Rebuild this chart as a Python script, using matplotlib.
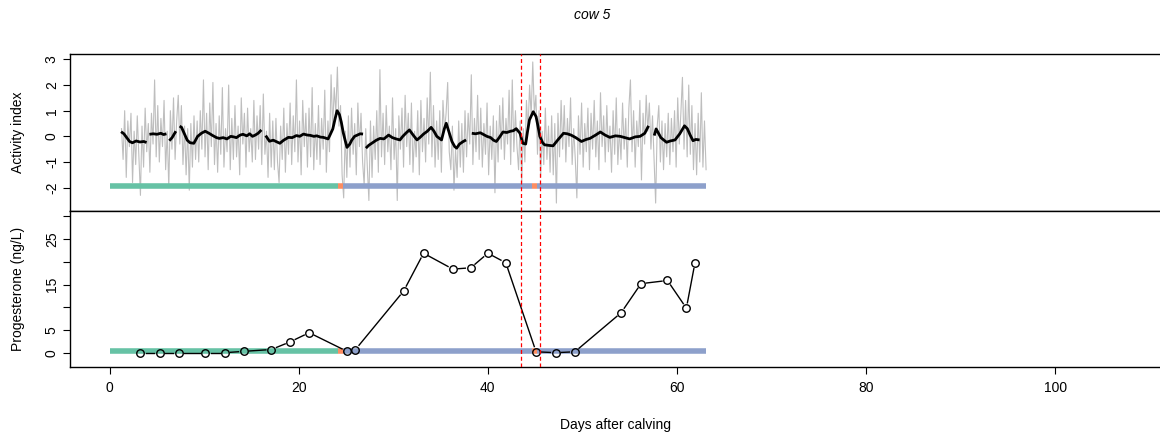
import numpy as np
import matplotlib
matplotlib.use("Agg")
import matplotlib.pyplot as plt

plt.rcParams['font.family'] = ['Liberation Sans', 'DejaVu Sans']

# ---------------- data ----------------
# raw activity index, sampled every 4 hours starting at day 1.25
activity_start = 1.25
activity_step = 1.0 / 6.0
activity_raw = [
    0.3, -0.9, 1.0, -1.6, 0.6, -0.4, 0.9, -1.8, 0.2, -1.1, 0.8, -0.7,
    -2.3, 0.4, -1.2, 1.1, -0.6, 0.5, -1.4, 0.9, -0.3, 2.2, -0.8, 1.2,
    -1.0, 0.7, -0.4, 1.4, -1.3, 0.2, -2.0, 1.0, -0.5, 1.5, -0.9, 0.6,
    1.6, -0.3, 1.2, -1.1, 0.4, -1.5, 0.3, -2.1, 0.5, -1.2, 0.8, -0.9,
    0.6, -1.0, 1.0, -0.5, 2.2, -0.8, 0.9, -1.3, 1.3, -0.4, 2.1, -1.1,
    0.5, -1.4, 0.8, -0.7, 1.9, -1.2, 0.3, -0.6, 2.0, -1.3, 0.7, -0.9,
    1.2, -0.8, 0.4, -1.5, 1.5, -0.3, 0.9, -1.2, 1.1, -0.6, 0.3, -1.0,
    1.4, -0.9, 0.8, -0.5, 1.2, -1.1, 1.65, -0.7, 0.2, -1.6, 0.9, -1.2,
    0.6, -1.3, 0.7, -1.0, -1.8, 0.4, -0.9, 1.1, -1.4, 0.5, -0.7, 1.3,
    -1.1, 0.8, -0.6, 2.2, -1.0, 0.6, -1.5, 1.4, -0.4, 0.9, -1.2, 1.1,
    -0.8, 1.9, -1.3, 0.5, -0.9, 1.2, -1.1, 0.7, -0.5, 1.8, -1.4, 0.6,
    -0.6, 2.4, 0.3, 1.9, 0.9, 2.7, 0.4, 1.2, -1.5, -2.4, 0.2, -1.6,
    0.8, -1.2, 1.1, -0.7, 0.5, -1.5, 1.3, -0.4, 0.9, -1.0, -1.9, 0.3,
    -1.2, -2.5, 0.6, -1.6, 0.4, -0.9, 1.0, -1.4, 2.6, -0.8, 0.9, -1.1,
    1.2, -0.6, 0.4, -1.3, 1.5, -0.9, 0.3, -2.5, 0.8, -0.5, 1.1, -1.2,
    1.6, -0.4, 0.9, -1.1, 1.3, -1.4, 0.2, -0.8, 1.0, -1.5, 1.4, -0.6,
    0.7, -1.0, 1.5, -0.3, 2.5, -0.8, 1.2, -1.2, 0.6, -0.9, 1.0, -1.4,
    1.4, 0.2, 0.9, 2.1, -0.6, -1.3, 0.4, -2.1, -0.5, -1.6, 0.6, -1.2,
    0.5, -1.4, 1.0, -0.8, 0.9, -0.3, 2.4, -1.1, 0.7, -0.6, 1.6, -0.9,
    1.1, -1.2, 0.5, -0.7, 1.3, -1.5, 0.4, -0.9, 0.8, -2.2, 0.6, -1.0,
    1.2, -0.5, 1.5, -0.9, 0.7, -0.3, 1.8, -1.1, 2.2, -0.6, 1.0, -0.4,
    -1.3, 0.6, -1.8, 0.3, -1.0, 1.4, 0.2, 2.0, 0.8, 2.9, 0.9, 1.6,
    -0.7, 1.0, -1.6, 0.2, -1.1, 1.1, -0.9, 0.4, -1.4, 0.8, -1.5, 0.5,
    -2.6, 0.9, -0.8, 1.4, -0.5, 1.2, -1.0, 0.7, -0.4, 1.5, -1.1, 0.3,
    -0.9, -2.4, 0.8, -0.7, 1.3, -1.2, 0.5, -0.6, 1.1, -1.3, 0.9, -0.5,
    1.4, -0.8, 0.6, -1.3, 1.7, -0.4, 0.8, -1.0, 1.2, -0.6, 0.4, -1.4,
    1.0, -0.7, 1.5, -1.1, 0.3, -0.9, 1.3, -0.5, 0.7, -1.2, 1.1, 2.2,
    -0.6, 1.0, -1.2, 0.6, -0.4, 1.4, -1.7, 0.9, -0.3, 1.6, 0.2, 1.3,
    -0.5, 0.8, -0.9, -2.6, 0.4, 1.2, -1.0, 0.6, -1.3, 0.5, -0.8, 0.9,
    -1.1, 0.7, -0.6, 1.0, -1.2, 1.5, -0.3, 0.9, 2.3, -0.5, 1.4, -0.8,
    2.0, -0.7, 1.2, -1.3, 0.5, -1.5, 0.9, -1.0, 1.7, -1.2, 0.6, -1.3,
]

# smoothed activity (None = gap)
smooth_days = [1.2, 1.5, 1.8, 2.1, 2.4, 2.8, 3.2, 3.6, 3.9, 4.05, 4.2, 4.6, 5.0, 5.4, 5.7, 6.0, 6.15,
               6.3, 6.6, 7.0, 7.2, 7.4, 7.6, 7.9, 8.2, 8.5, 8.9, 9.3, 9.7, 10.1, 10.5, 10.9, 11.3,
               11.6, 12.0, 12.4, 12.8, 13.1, 13.4, 13.8, 14.1, 14.5, 14.8, 15.1, 15.4, 15.7, 16.05,
               16.3, 16.5, 16.9, 17.3, 17.7, 18.0, 18.4, 18.9, 19.3, 19.75, 20.1, 20.5, 20.9, 21.2,
               21.6, 21.9, 22.3, 22.6, 23.1, 23.3, 23.6, 23.85, 24.05, 24.3, 24.5, 24.7, 24.9, 25.1,
               25.4, 25.6, 25.9, 26.2, 26.5, 26.8, 26.95, 27.1, 27.4, 27.8, 28.2, 28.6, 29.0, 29.5,
               29.9, 30.3, 30.7, 31.0, 31.4, 31.7, 32.1, 32.5, 32.8, 33.2, 33.6, 34.0, 34.3, 34.6,
               35.1, 35.4, 35.6, 35.9, 36.2, 36.5, 36.7, 37.0, 37.4, 37.7, 38.0, 38.3, 38.7, 39.2,
               39.5, 39.9, 40.3, 40.6, 40.9, 41.2, 41.6, 42.0, 42.4, 42.7, 43.0, 43.4, 43.7, 44.0,
               44.2, 44.4, 44.8, 45.1, 45.3, 45.5, 45.8, 46.0, 46.4, 46.9, 47.4, 48.0, 48.4, 48.8,
               49.3, 49.9, 50.4, 50.8, 51.4, 51.9, 52.4, 52.9, 53.5, 54.0, 54.5, 55.0, 55.6, 56.1,
               56.6, 57.0, 57.3, 57.6, 57.8, 58.3, 58.9, 59.3, 59.8, 60.3, 60.8, 61.1, 61.4, 61.7,
               62.0, 62.4]
smooth_vals = [0.18, 0.1, -0.05, -0.2, -0.25, -0.18, -0.22, -0.2, -0.24, None, 0.08, 0.1, 0.08, 0.12, 0.07, 0.1, None,
               -0.17, -0.05, 0.2, None, 0.4, 0.35, 0.1, -0.15, -0.25, -0.27, 0.0, 0.12, 0.2, 0.12, 0.03, -0.05,
               -0.08, -0.05, -0.1, 0.0, -0.02, -0.05, 0.05, 0.08, 0.02, 0.1, 0.0, 0.05, 0.12, 0.25,
               None, 0.03, -0.19, -0.15, -0.22, -0.27, -0.15, -0.04, -0.05, 0.03, 0.0, 0.09, 0.05, 0.04,
               0.0, 0.02, -0.03, -0.04, -0.1, 0.05, 0.29, 0.7, 1.0, 0.85, 0.55, 0.15, -0.15, -0.43,
               -0.3, -0.15, 0.0, 0.05, 0.1, 0.09, None, -0.46, -0.35, -0.25, -0.15, -0.08, -0.1, 0.05,
               -0.05, -0.1, -0.14, 0.0, 0.15, 0.25, 0.05, -0.14, -0.05, 0.09, 0.2, 0.35, 0.2, 0.0,
               -0.14, 0.3, 0.51, 0.15, -0.2, -0.4, -0.46, -0.3, -0.2, -0.14, None, 0.12, 0.1, 0.14,
               0.08, 0.0, -0.05, -0.15, -0.2, -0.05, 0.17, 0.15, 0.2, 0.22, 0.3, 0.12, -0.27, -0.3,
               0.2, 0.64, 0.96, 0.77, 0.4, 0.0, -0.25, -0.33, -0.35, -0.37, -0.14, 0.12, 0.1, 0.05,
               -0.05, -0.2, -0.12, -0.08, 0.05, 0.17, 0.05, -0.04, 0.02, 0.0, -0.05, -0.1, -0.02, 0.0,
               0.12, 0.41, None, 0.03, 0.29, -0.05, -0.23, -0.18, -0.14, 0.1, 0.41, 0.3, 0.05, -0.17,
               -0.12, -0.14]

# progesterone samples
prog_days = [3.25, 5.3, 7.3, 10.1, 12.2, 14.2, 17.1, 19.1, 21.1, 25.1, 26.0,
             31.1, 33.2, 36.3, 38.2, 40.0, 41.9, 45.1, 47.2, 49.2, 54.1, 56.2, 59.0, 61.0, 61.9]
prog_vals = [0.0, 0.0, 0.0, 0.0, 0.0, 0.3, 0.7, 2.4, 4.4, 0.3, 0.7,
             13.6, 21.9, 18.4, 18.7, 21.9, 19.8, 0.2, 0.0, 0.2, 8.8, 15.2, 15.9, 9.8, 19.7]

# state segments (day ranges) and state id
state_start = [0.0, 24.2, 24.7, 44.7, 45.2]
state_end = [24.2, 24.7, 44.7, 45.2, 63.07]
state_id = [0, 1, 2, 1, 2]
state_colors = ['#66C2A5', '#FC8D62', '#8DA0CB']

event_days = [43.5, 45.5]

# ---------------- figure ----------------
W, H = 1160, 434
fig = plt.figure(figsize=(W / 100, H / 100), dpi=100)
L = 70 / W
ax1 = fig.add_axes([L, 1 - 211 / H, 1 - L, (211 - 54) / H])
ax2 = fig.add_axes([L, 1 - 367 / H, 1 - L, (367 - 211) / H])

xlim = (-4.2, 111.1)
FS = 10
for ax in (ax1, ax2):
    ax.set_xlim(*xlim)
    ax.spines['right'].set_visible(False)
    for s in ('top', 'bottom', 'left'):
        ax.spines[s].set_linewidth(1.0)
    ax.tick_params(axis='both', length=5, width=0.8, labelsize=FS, pad=5)
    ax.tick_params(axis='y', labelrotation=90, pad=3)

ax1.set_ylim(-2.91, 3.21)
ax2.set_ylim(-3.15, 31.2)

# activity raw
act_days = activity_start + activity_step * np.arange(len(activity_raw))
ax1.plot(act_days, activity_raw, color='#BEBEBE', lw=0.8, zorder=1)
sv = np.array([np.nan if v is None else v for v in smooth_vals], dtype=float)
ax1.plot(smooth_days, sv, color='black', lw=2.0, zorder=3, solid_capstyle='butt')

# state bars
for s, e, k in zip(state_start, state_end, state_id):
    ax1.plot([s, e], [-1.92, -1.92], color=state_colors[k], lw=4, solid_capstyle='butt', zorder=2)
    ax2.plot([s, e], [0.4, 0.4], color=state_colors[k], lw=4, solid_capstyle='butt', zorder=2)

ax1.set_xticks([])
ax1.set_yticks([-2, -1, 0, 1, 2, 3])
ax1.set_yticklabels(['-2', '-1', '0', '1', '2', '3'], rotation=90, va='center')

# progesterone: R type="b" look (segments with gaps around points)
gap = 5.5
pts = ax2.transData.transform(np.column_stack([prog_days, prog_vals]))
inv = ax2.transData.inverted()
for p, q in zip(pts[:-1], pts[1:]):
    d = q - p
    n = np.hypot(*d)
    if n > 2 * gap + 1:
        u = d / n
        a = inv.transform(p + u * gap)
        b = inv.transform(q - u * gap)
        ax2.plot([a[0], b[0]], [a[1], b[1]], color='black', lw=1.0, zorder=3)
ax2.plot(prog_days, prog_vals, ls='none', marker='o', ms=5.4, mfc='none',
         mec='black', mew=1.0, zorder=4)

ax2.set_yticks([0, 5, 10, 15, 20, 25, 30])
ax2.set_yticklabels(['0', '5', '', '15', '', '25', ''], rotation=90, va='center')
ax2.set_xticks([0, 20, 40, 60, 80, 100])
ax2.set_xticklabels(['0', '20', '40', '60', '80', '100'])

for ax in (ax1, ax2):
    for d in event_days:
        ax.axvline(d, color='red', lw=0.9, dashes=(3.2, 2.2), zorder=5)

fig.text(18 / W, 1 - 132.5 / H, 'Activity index', rotation=90, ha='center', va='center', fontsize=FS)
fig.text(18 / W, 1 - 289 / H, 'Progesterone (ng/L)', rotation=90, ha='center', va='center', fontsize=FS)
fig.text(615 / W, 1 - 425 / H, 'Days after calving', ha='center', va='center', fontsize=FS)
fig.text(592 / W, 1 - 15 / H, 'cow 5', ha='center', va='center', fontsize=10, style='italic')

fig.savefig('out.png', dpi=100)
